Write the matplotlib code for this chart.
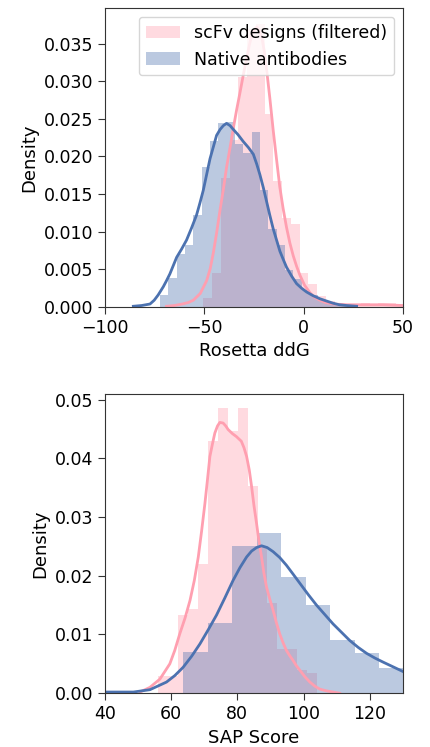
import numpy as np
import matplotlib
matplotlib.use("Agg")
import matplotlib.pyplot as plt

# Rosetta ddG panel - histogram bins (edges) and densities
ddg_scfv_edges = [-50.4, -46.0, -41.6, -37.2, -32.8, -28.4, -24.0, -19.6, -15.2, -10.8,
                  -6.4, -2.0, 2.4, 6.8, 11.2, 15.6, 20.0, 24.4, 28.8, 33.2, 37.6, 42.0,
                  46.4, 50.8]
ddg_scfv_hist = [0.0012, 0.0045, 0.0171, 0.0222, 0.0305, 0.0370, 0.0376, 0.0257, 0.0167,
                 0.0118, 0.0110, 0.0045, 0.0030, 0.0015, 0.0008, 0.0005, 0.0004, 0.0004,
                 0.0005, 0.0004, 0.0006, 0.0005, 0.0003]
ddg_native_edges = [-72.3, -68.1, -63.9, -59.7, -55.5, -51.3, -47.1, -42.9, -38.7, -34.5,
                    -30.3, -26.1, -21.9, -17.7, -13.5, -9.3, -5.1, -0.9, 3.3, 7.5, 11.7,
                    15.9, 20.1, 24.3]
ddg_native_hist = [0.0016, 0.0038, 0.0071, 0.0082, 0.0122, 0.0186, 0.0221, 0.0244, 0.0246,
                   0.0216, 0.0204, 0.0233, 0.0155, 0.0103, 0.0082, 0.0049, 0.0037, 0.0022,
                   0.0016, 0.0009, 0.0007, 0.0004, 0.0002]

# kde curves
ddg_scfv_kde_x = [-69, -65, -61, -58, -55.5, -52, -50.5, -48.8, -47, -45.5, -43.8, -42.1,
                  -40.4, -38.8, -37, -35.4, -33.7, -32, -30.3, -28.7, -27.3, -26, -24.7,
                  -23.5, -22.3, -21, -19.8, -18.6, -17, -15.3, -13.6, -12, -10.3, -8.6,
                  -6.9, -5.2, -3.5, -1.8, 0.5, 3.2, 5.5, 8.2, 11, 15, 22, 30, 40, 50]
ddg_scfv_kde_y = [0.0001, 0.0002, 0.0004, 0.0006, 0.0009, 0.0018, 0.0026, 0.0035, 0.0051,
                  0.0071, 0.0098, 0.0128, 0.0156, 0.0185, 0.0212, 0.0237, 0.0262, 0.0285,
                  0.0309, 0.0330, 0.0348, 0.0362, 0.0369, 0.0372, 0.0368, 0.0358, 0.0340,
                  0.0315, 0.0278, 0.0235, 0.0196, 0.0160, 0.0131, 0.0106, 0.0085, 0.0068,
                  0.0054, 0.0042, 0.0029, 0.0019, 0.0013, 0.0009, 0.0006, 0.0004, 0.0003,
                  0.0003, 0.0003, 0.0002]
ddg_native_kde_x = [-85.7, -81.5, -77.3, -75.2, -73.2, -70.6, -69, -67.3, -63.9, -61.4,
                    -58.9, -56.4, -53.9, -52.2, -50.5, -48.8, -47.1, -45.4, -43.8, -42,
                    -40.4, -38.8, -37, -35.4, -33, -30.4, -27.8, -25.3, -23.6, -22, -20.3,
                    -18.6, -17, -15.3, -13.6, -11.9, -10.2, -8.6, -6, -3.5, -1, 1.5, 4.8,
                    8.2, 11.5, 14.9, 18, 21.6, 26.7]
ddg_native_kde_y = [0.0001, 0.0002, 0.0004, 0.0009, 0.0016, 0.0027, 0.0035, 0.0044, 0.0066,
                    0.0077, 0.0089, 0.0105, 0.0122, 0.0138, 0.0155, 0.0176, 0.0197, 0.0213,
                    0.0228, 0.0236, 0.0241, 0.0244, 0.0241, 0.0236, 0.0229, 0.0220, 0.0212,
                    0.0203, 0.0190, 0.0176, 0.0159, 0.0140, 0.0122, 0.0104, 0.0089, 0.0074,
                    0.0063, 0.0053, 0.0041, 0.0031, 0.0025, 0.0020, 0.0015, 0.0011, 0.0008,
                    0.0005, 0.0003, 0.0002, 0.0001]

# SAP score panel
sap_scfv_edges = [56.1, 59.1, 62.1, 65.1, 68.1, 71.1, 74.1, 77.1, 80.1, 83.1, 86.1, 89.1,
                  92.1, 95.1, 98.1, 101.1, 104.1]
sap_scfv_hist = [0.0029, 0.0029, 0.0133, 0.0144, 0.0220, 0.0429, 0.0486, 0.0447, 0.0486,
                 0.0352, 0.0250, 0.0153, 0.0076, 0.0076, 0.0039, 0.0035]
sap_native_edges = [63.6, 71.0, 78.4, 85.8, 93.2, 100.6, 108.0, 115.4, 122.8, 130.2]
sap_native_hist = [0.0071, 0.0120, 0.0251, 0.0272, 0.0198, 0.0150, 0.0090, 0.0068, 0.0043]

sap_scfv_kde_x = [50.6, 53.6, 56.6, 59.6, 61.1, 62.6, 64.2, 65.7, 67, 68.2, 69.2, 70.2, 71,
                  71.7, 72.5, 73.2, 74, 74.7, 75.7, 76.5, 77.2, 78.5, 79.7, 81.2, 82,
                  82.8, 83.6, 84.3, 85, 85.8, 86.5, 87.3, 88, 88.8, 89.8, 90.8, 91.8, 92.8,
                  93.8, 94.8, 95.8, 96.8, 97.8, 98.9, 100.4, 101.9, 103.4, 104.9, 106.9,
                  108.9, 110.9]
sap_scfv_kde_y = [0.0002, 0.0010, 0.0024, 0.0050, 0.0073, 0.0101, 0.0128, 0.0158, 0.0192,
                  0.0232, 0.0276, 0.0323, 0.0365, 0.0403, 0.0425, 0.0443, 0.0455, 0.0461,
                  0.0460, 0.0455, 0.0449, 0.0442, 0.0437, 0.0429, 0.0418, 0.0403, 0.0380,
                  0.0352, 0.0320, 0.0289, 0.0260, 0.0232, 0.0205, 0.0181, 0.0160, 0.0141,
                  0.0120, 0.0101, 0.0086, 0.0073, 0.0064, 0.0056, 0.0047, 0.0039, 0.0028,
                  0.0019, 0.0012, 0.0007, 0.0004, 0.0002, 0.0]
sap_native_kde_x = [40, 48.6, 53.6, 58.6, 61.1, 63.6, 66.2, 68.7, 71.2, 73.7, 76.2, 78.7,
                    80.8, 82.8, 84.3, 85.8, 87.3, 89, 90.8, 92.8, 94.8, 96.8, 98.9, 101.4,
                    103.9, 106.4, 108.9, 111.4, 113.9, 116.5, 119, 121.5, 124, 127, 130]
sap_native_kde_y = [0.0002, 0.0002, 0.0006, 0.0019, 0.0030, 0.0044, 0.0063, 0.0084, 0.0108,
                    0.0133, 0.0162, 0.0192, 0.0214, 0.0232, 0.0242, 0.0248, 0.0251, 0.0248,
                    0.0241, 0.0231, 0.0218, 0.0203, 0.0187, 0.0168, 0.0150, 0.0134, 0.0118,
                    0.0104, 0.0090, 0.0078, 0.0068, 0.0060, 0.0053, 0.0045, 0.0037]

labels = ["scFv designs (filtered)", "Native antibodies"]
pink = "#ff9fb0"
blue = "#4c72b0"


def draw_hist(ax, edges, heights, color, label):
    edges = np.asarray(edges)
    return ax.bar(edges[:-1], heights, width=np.diff(edges), align="edge",
                  color=color, alpha=0.38, linewidth=0, label=label)


def panel(ax, scfv, native, xlabel, xlim, ylim, xticks):
    draw_hist(ax, scfv[0], scfv[1], pink, labels[0])
    ax.plot(scfv[2], scfv[3], color=pink, lw=2, solid_joinstyle="round")
    draw_hist(ax, native[0], native[1], blue, labels[1])
    ax.plot(native[2], native[3], color=blue, lw=2, solid_joinstyle="round")
    ax.set_xlim(*xlim)
    ax.set_ylim(*ylim)
    ax.set_xticks(xticks)
    ax.set_xlabel(xlabel, fontsize=13)
    ax.set_ylabel("Density", fontsize=13)
    ax.tick_params(labelsize=12.5, length=5, color="#333333")
    for s in ax.spines.values():
        s.set_color("#333333")


fig = plt.figure(figsize=(4.3, 7.47), dpi=100)
ax1 = fig.add_axes([0.244, 0.589, 0.693, 0.400])
ax2 = fig.add_axes([0.244, 0.072, 0.693, 0.401])

panel(ax1, (ddg_scfv_edges, ddg_scfv_hist, ddg_scfv_kde_x, ddg_scfv_kde_y),
      (ddg_native_edges, ddg_native_hist, ddg_native_kde_x, ddg_native_kde_y),
      "Rosetta ddG", (-100, 50), (0, 0.0397), [-100, -50, 0, 50])
ax1.legend(loc="upper right", fontsize=12.5)

panel(ax2, (sap_scfv_edges, sap_scfv_hist, sap_scfv_kde_x, sap_scfv_kde_y),
      (sap_native_edges, sap_native_hist, sap_native_kde_x, sap_native_kde_y),
      "SAP Score", (40, 130), (0, 0.051), [40, 60, 80, 100, 120])

fig.savefig("out.png", dpi=100)
